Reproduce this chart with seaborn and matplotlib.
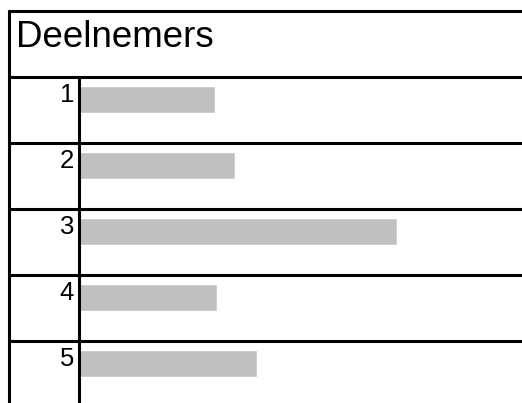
import matplotlib
matplotlib.use("Agg")
import matplotlib.pyplot as plt
import matplotlib.transforms as mtransforms
from matplotlib.lines import Line2D
import seaborn as sns

# data
title = "Deelnemers"
categories = ["1", "2", "3", "4", "5"]
values = [27.3, 31.3, 63.7, 27.7, 35.7]

W, H = 522, 403
sns.set_theme(style="white")
plt.rcParams["font.family"] = ["Liberation Sans", "DejaVu Sans"]

fig = plt.figure(figsize=(W / 100, H / 100), dpi=100)
fig.patch.set_facecolor("white")

row_px = 66.1
top_px = 76.5
line_off = 0.345  # row separator sits this far above each category centre
ax_left = 78.5
ax = fig.add_axes([ax_left / W, 0, 1 - ax_left / W, 1 - top_px / H])

sns.barplot(x=values, y=categories, orient="h", color="#c0c0c0",
            saturation=1, width=0.404, ax=ax)

ax.set_xlim(0, (W - ax_left) / 5.0)
ax.set_ylim(-line_off + (H - top_px) / row_px, -line_off)
ax.set_xticks([])
ax.set_yticks([])
ax.set_xlabel("")
ax.set_ylabel("")
for side in ["top", "right", "bottom"]:
    ax.spines[side].set_visible(False)
ax.spines["left"].set_color("black")
ax.spines["left"].set_linewidth(2.2)
ax.set_facecolor("none")

# row separators across the whole width
blend = mtransforms.blended_transform_factory(fig.transFigure, ax.transData)
for i in range(len(categories)):
    ax.add_line(Line2D([9 / W, 1], [i - line_off, i - line_off], transform=blend,
                       color="black", lw=2.2, clip_on=False))

# row labels
label_blend = mtransforms.blended_transform_factory(ax.transAxes, ax.transData)
for i, c in enumerate(categories):
    ax.text(-4.5 / (W - ax_left), i + 0.04, c, transform=label_blend,
            ha="right", va="baseline", fontsize=18.5, color="black")

# outer border (left + top)
fig.add_artist(Line2D([9 / W, 9 / W], [0, 1 - 11 / H], transform=fig.transFigure,
                      color="black", lw=2.2))
fig.add_artist(Line2D([9 / W, 1], [1 - 11 / H, 1 - 11 / H], transform=fig.transFigure,
                      color="black", lw=2.2))

fig.text(16 / W, 1 - 47 / H, title, ha="left", va="baseline", fontsize=26.5, color="black")

fig.savefig("out.png", dpi=100, facecolor="white")
